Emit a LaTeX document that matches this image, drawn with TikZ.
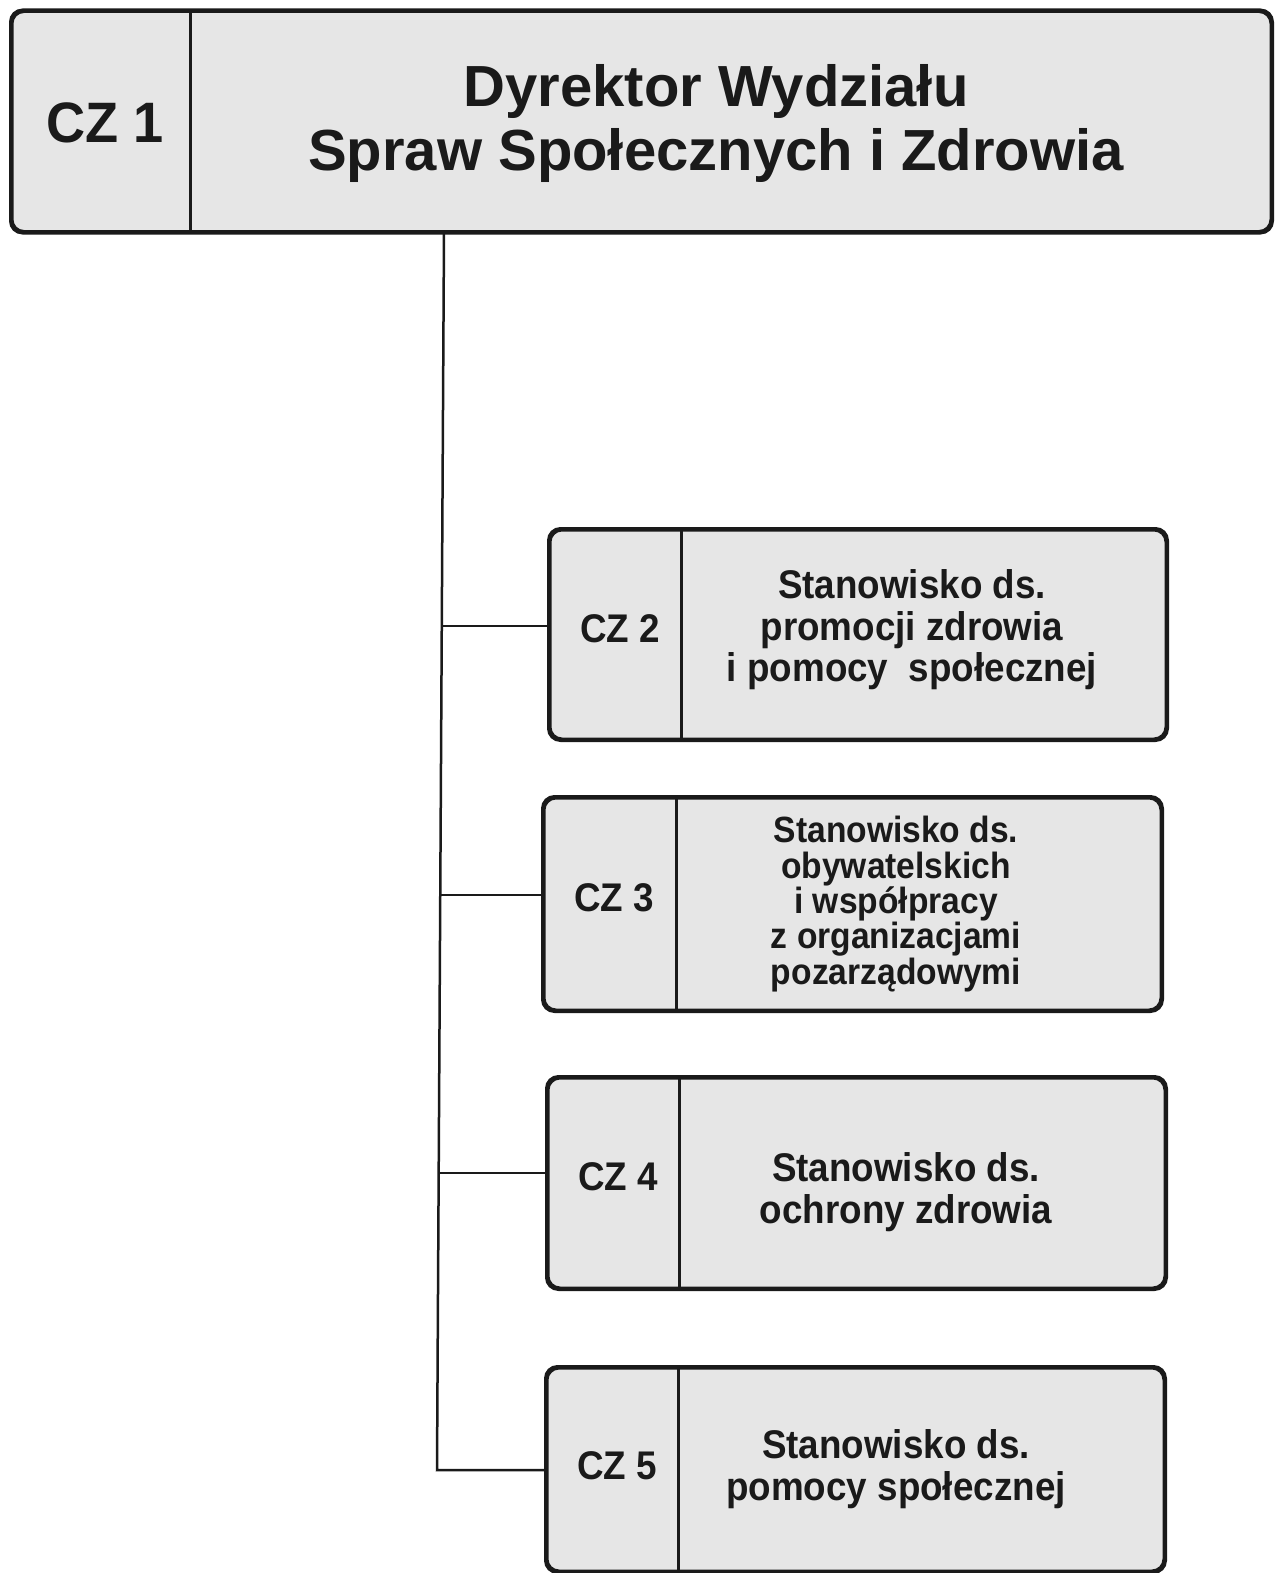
\documentclass[tikz,border=0pt]{standalone}
\usepackage{fontspec}
\setmainfont{Liberation Sans}
\newfontfamily\condfont[FakeStretch=0.92]{Liberation Sans}
\newfontfamily\condfontA[FakeStretch=0.95]{Liberation Sans}
\definecolor{boxfill}{HTML}{E6E6E6}
\definecolor{ink}{HTML}{1A1A1A}
\begin{document}
\begin{tikzpicture}[x=1pt,y=-1pt,
  box/.style={draw=ink, line width=3pt, rounded corners=12pt, fill=boxfill, inner sep=0pt},
  divline/.style={draw=ink, line width=2.2pt},
  link/.style={draw=ink, line width=2.5pt, line join=miter},
  title/.style={text=ink, align=center, inner sep=0pt, font=\bfseries\fontsize{58}{64}\selectfont},
  czbig/.style={text=ink, inner sep=0pt, font=\condfontA\bfseries\fontsize{57}{60}\selectfont},
  czlab/.style={text=ink, inner sep=0pt, font=\condfont\bfseries\fontsize{40}{41}\selectfont},
  desc/.style={text=ink, align=center, inner sep=0pt, font=\condfont\bfseries\fontsize{40}{41.5}\selectfont},
  descsmall/.style={text=ink, align=center, inner sep=0pt, font=\condfont\bfseries\fontsize{36.5}{35.3}\selectfont},
]
\useasboundingbox[fill=white] (0,0) rectangle (1278,1573);

% trunk coordinates
\coordinate (t0) at (444,232);
\coordinate (j2) at (441.8,626);
\coordinate (j3) at (440.3,895);
\coordinate (j4) at (438.7,1173);
\coordinate (j5) at (437,1470);

% boxes
\node[box, minimum width=1259pt, minimum height=220pt] (dir) at (641.5,121.5) {};
\node[box, minimum width=616pt, minimum height=209pt] (p2) at (858,634.5) {};
\node[box, minimum width=617pt, minimum height=212pt] (p3) at (852.5,904) {};
\node[box, minimum width=617pt, minimum height=210pt] (p4) at (856.5,1183) {};
\node[box, minimum width=617pt, minimum height=203pt] (p5) at (855.5,1469.5) {};

% connectors
\draw[link] (t0) -- (j5) -- (j5 -| p5.west);
\draw[link] (j2) -- (j2 -| p2.west);
\draw[link] (j3) -- (j3 -| p3.west);
\draw[link] (j4) -- (j4 -| p4.west);

% redraw box outlines over connector ends
\foreach \b in {dir,p2,p3,p4,p5}{
  \draw[draw=ink, line width=3pt, rounded corners=12pt] (\b.north west) rectangle (\b.south east);
}

% dividers
\draw[divline] ([xshift=180pt]dir.north west) -- ([xshift=180pt]dir.south west);
\draw[divline] ([xshift=133pt]p2.north west) -- ([xshift=133pt]p2.south west);
\draw[divline] ([xshift=134pt]p3.north west) -- ([xshift=134pt]p3.south west);
\draw[divline] ([xshift=133pt]p4.north west) -- ([xshift=133pt]p4.south west);
\draw[divline] ([xshift=133pt]p5.north west) -- ([xshift=133pt]p5.south west);

% texts
\node[czbig] (dirid) at (105,123) {CZ 1};
\node[title] (dirname) at (716,124) {Dyrektor Wydziału\\Spraw Społecznych i Zdrowia};

\node[czlab] (p2id) at (620,629) {CZ 2};
\node[desc] (p2txt) at (912,630) {Stanowisko ds.\\promocji zdrowia\\i pomocy\ \ społecznej};

\node[czlab] (p3id) at (614,898) {CZ 3};
\node[descsmall] (p3txt) at (896,904) {Stanowisko ds.\\obywatelskich\\i współpracy\\z organizacjami\\pozarządowymi};

\node[czlab] (p4id) at (618,1177) {CZ 4};
\node[desc] (p4txt) at (906,1192) {Stanowisko ds.\\ochrony zdrowia};

\node[czlab] (p5id) at (617,1466) {CZ 5};
\node[desc] (p5txt) at (896,1469) {Stanowisko ds.\\pomocy społecznej};
\end{tikzpicture}
\end{document}
